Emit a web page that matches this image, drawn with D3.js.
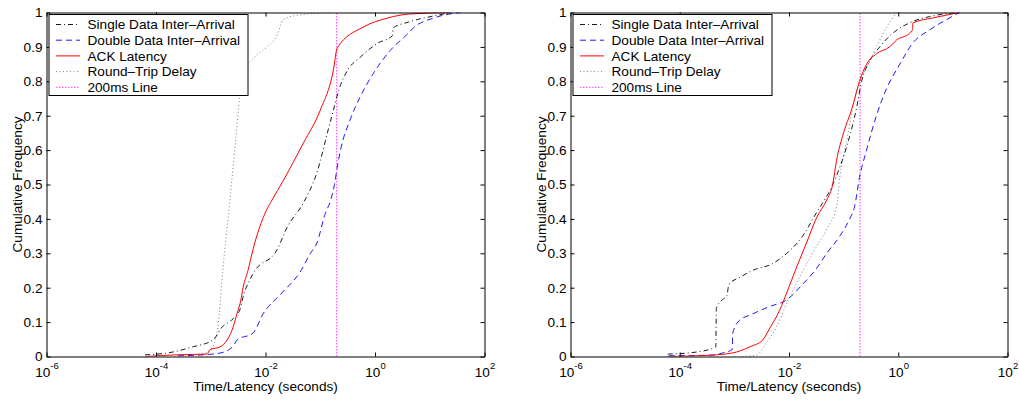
<!DOCTYPE html>
<html>
<head>
<meta charset="utf-8">
<script src="https://cdn.jsdelivr.net/npm/d3@7"></script>
<style>
  body { margin: 0; background: #fff; }
  svg { display: block; font-family: "Liberation Sans", Arial, Helvetica, sans-serif; }
</style>
</head>
<body>
<svg id="canvas" width="1019" height="402"></svg>
<script>
// Declare data (times stored as log10 of seconds)
let seriesNames = ["Single Data Inter\u2013Arrival", "Double Data Inter\u2013Arrival", "ACK Latency", "Round\u2013Trip Delay", "200ms Line"];
let xTicks = [1e-6, 1e-4, 1e-2, 1, 1e2];
let xTickExp = ["-6", "-4", "-2", "0", "2"];
let yTicks = [0, 0.1, 0.2, 0.3, 0.4, 0.5, 0.6, 0.7, 0.8, 0.9, 1];
let yTickLabels = ["0", "0.1", "0.2", "0.3", "0.4", "0.5", "0.6", "0.7", "0.8", "0.9", "1"];
let cutoffSeconds = 0.2;

// left panel
let leftSingleT = [-4.2, -3.8, -3.33, -2.96, -2.79, -2.59, -2.47, -2.41, -2.23, -1.79, -1.6, -1.31, -1.05, -0.87, -0.76, -0.65, -0.51, -0.27, 0.04, 0.32, 0.33, 0.61, 1.07, 1.4];
let leftSingleF = [0.005, 0.01, 0.028, 0.048, 0.086, 0.11, 0.135, 0.173, 0.24, 0.31, 0.377, 0.446, 0.54, 0.65, 0.716, 0.78, 0.83, 0.87, 0.91, 0.933, 0.955, 0.972, 0.99, 1];
let leftDoubleT = [-3.6, -3.14, -2.83, -2.59, -2.52, -2.23, -2.04, -1.7, -1.37, -1.18, -1.06, -0.92, -0.8, -0.74, -0.69, -0.63, -0.45, -0.27, 0.04, 0.28, 0.61, 0.7, 1.07, 1.56];
let leftDoubleF = [0.002, 0.005, 0.01, 0.03, 0.048, 0.068, 0.125, 0.185, 0.245, 0.3, 0.33, 0.41, 0.46, 0.5, 0.55, 0.6, 0.69, 0.755, 0.84, 0.89, 0.94, 0.955, 0.984, 1];
let leftAckT = [-4.2, -3.6, -3.07, -3.01, -2.83, -2.7, -2.59, -2.52, -2.45, -2.41, -2.32, -2.23, -2.12, -1.98, -1.88, -1.68, -1.31, -1, -0.76, -0.69, -0.21, 0.23, 0.65, 1.38];
let leftAckF = [0, 0.005, 0.007, 0.02, 0.028, 0.048, 0.086, 0.125, 0.164, 0.2, 0.25, 0.31, 0.37, 0.426, 0.455, 0.51, 0.62, 0.716, 0.833, 0.897, 0.958, 0.984, 0.996, 1];
let leftRttT = [-3.6, -3.1, -2.96, -2.87, -2.78, -2.65, -2.55, -2.47, -2.37, -2.2, -1.97, -1.79, -1.68, -1.49, -0.8];
let leftRttF = [0, 0.01, 0.03, 0.086, 0.25, 0.455, 0.62, 0.754, 0.833, 0.87, 0.9, 0.934, 0.978, 0.99, 1];

// right panel
let rightSingleT = [-4.22, -3.69, -3.34, -3.33, -3.22, -3.14, -3.1, -2.9, -2.67, -2.3, -2.04, -1.75, -1.49, -1.26, -1.07, -0.89, -0.76, -0.67, -0.52, -0.34, -0.1, 0.21, 0.63, 1.07];
let rightSingleF = [0.007, 0.013, 0.028, 0.14, 0.165, 0.175, 0.21, 0.23, 0.25, 0.27, 0.3, 0.35, 0.42, 0.48, 0.55, 0.64, 0.725, 0.8, 0.86, 0.9, 0.94, 0.97, 0.99, 1];
let rightDoubleT = [-4.2, -3.4, -3.22, -3.04, -3.03, -2.9, -2.72, -2.36, -2.04, -1.75, -1.5, -1.31, -1.07, -0.89, -0.8, -0.71, -0.58, -0.4, -0.21, 0.03, 0.26, 0.58, 0.89, 1.12];
let rightDoubleF = [0.002, 0.004, 0.01, 0.02, 0.068, 0.106, 0.12, 0.145, 0.165, 0.21, 0.255, 0.3, 0.35, 0.4, 0.435, 0.52, 0.6, 0.7, 0.78, 0.85, 0.91, 0.95, 0.98, 1];
let rightAckT = [-4.22, -3.33, -2.96, -2.72, -2.48, -2.36, -2.17, -2.03, -1.86, -1.68, -1.49, -1.31, -1.2, -1.13, -1.02, -0.84, -0.71, -0.58, -0.4, -0.16, -0.03, 0.21, 0.26, 0.27, 0.63, 1.12];
let rightAckF = [0, 0.005, 0.013, 0.028, 0.048, 0.08, 0.135, 0.19, 0.26, 0.33, 0.405, 0.455, 0.5, 0.57, 0.64, 0.725, 0.8, 0.85, 0.88, 0.9, 0.92, 0.94, 0.95, 0.97, 0.984, 1];
let rightRttT = [-2.85, -2.59, -2.41, -2.23, -2.04, -1.81, -1.57, -1.31, -1.13, -1.07, -0.95, -0.84, -0.71, -0.58, -0.4, -0.21, -0.03];
let rightRttF = [0, 0.005, 0.04, 0.086, 0.155, 0.23, 0.3, 0.37, 0.435, 0.52, 0.62, 0.717, 0.795, 0.84, 0.9, 0.958, 1];

// line styles, same order as seriesNames
let styles = [
  { color: "#000000", dash: "5,3,1,3", width: 0.9 },
  { color: "#0000ff", dash: "6,4", width: 0.9 },
  { color: "#ff0000", dash: null, width: 1 },
  { color: "#707070", dash: "1,2.5", width: 0.9 },
  { color: "#ff33ff", dash: "1.5,1.5", width: 1 }
];

let panels = [
  { left: 46.5, right: 484.5, series: [[leftSingleT, leftSingleF], [leftDoubleT, leftDoubleF], [leftAckT, leftAckF], [leftRttT, leftRttF]] },
  { left: 570.5, right: 1007.5, series: [[rightSingleT, rightSingleF], [rightDoubleT, rightDoubleF], [rightAckT, rightAckF], [rightRttT, rightRttF]] }
];

let plotTop = 12.5;
let plotBottom = 356.5;
let fontSize = 13.6;

let canvas = d3.select("#canvas");
canvas.append("rect").attr("width", 1019).attr("height", 402).attr("fill", "#fff");

let applyStyle = (sel, st) => {
  sel.attr("fill", "none")
    .attr("stroke", st.color)
    .attr("stroke-width", st.width)
    .attr("stroke-dasharray", st.dash);
};

let drawPanel = (p, idx) => {
  let xScale = d3.scaleLog().domain([1e-6, 1e2]).range([p.left, p.right]);
  let yScale = d3.scaleLinear().domain([0, 1]).range([plotBottom, plotTop]);
  let g = canvas.append("g");

  let clipId = "clip" + idx;
  g.append("clipPath").attr("id", clipId)
    .append("rect")
    .attr("x", p.left).attr("y", plotTop)
    .attr("width", p.right - p.left).attr("height", plotBottom - plotTop);

  let plot = g.append("g").attr("clip-path", `url(#${clipId})`);

  let line = d3.line()
    .x((d) => xScale(Math.pow(10, d[0])))
    .y((d) => yScale(d[1]))
    .curve(d3.curveMonotoneX);

  // 200ms line
  plot.append("path")
    .attr("d", d3.line()([[xScale(cutoffSeconds), yScale(0)], [xScale(cutoffSeconds), yScale(1)]]))
    .call(applyStyle, styles[4]);

  // draw RTT first, then the others on top
  [3, 1, 0, 2].forEach((s) => {
    let ts = p.series[s][0];
    let fs = p.series[s][1];
    let pts = ts.map((t, i) => [t, fs[i]]);
    plot.append("path").attr("d", line(pts)).call(applyStyle, styles[s]);
  });

  // axes
  let xAxis = g.append("g")
    .attr("transform", `translate(0,${plotBottom})`)
    .call(d3.axisBottom(xScale).tickValues(xTicks).tickSize(-4).tickSizeOuter(0).tickPadding(11));
  xAxis.selectAll(".tick text").each(function (d, i) {
    let t = d3.select(this);
    t.text("10");
    t.append("tspan").attr("dy", -8).attr("class", "sup").text(xTickExp[i]);
  });

  g.append("g")
    .attr("transform", `translate(0,${plotTop})`)
    .call(d3.axisTop(xScale).tickValues(xTicks).tickSize(-4).tickSizeOuter(0).tickFormat(""));

  g.append("g")
    .attr("transform", `translate(${p.left},0)`)
    .call(d3.axisLeft(yScale).tickValues(yTicks).tickSize(-4).tickSizeOuter(0).tickPadding(4)
      .tickFormat((d, i) => yTickLabels[i]));

  g.append("g")
    .attr("transform", `translate(${p.right},0)`)
    .call(d3.axisRight(yScale).tickValues(yTicks).tickSize(-4).tickSizeOuter(0).tickFormat(""));

  g.selectAll(".domain").attr("stroke", "#000").attr("stroke-width", 1);
  g.selectAll(".tick line").attr("stroke", "#000").attr("stroke-width", 1);
  g.selectAll(".tick text").attr("fill", "#000").attr("font-size", fontSize)
    .attr("font-family", "Liberation Sans, Arial, sans-serif");
  xAxis.selectAll(".sup").attr("font-size", 9.5);

  // axis titles
  g.append("text")
    .attr("x", (p.left + p.right) / 2)
    .attr("y", 391)
    .attr("text-anchor", "middle")
    .attr("font-size", fontSize)
    .text("Time/Latency (seconds)");

  g.append("text")
    .attr("transform", `translate(${p.left - 25},${(plotTop + plotBottom) / 2}) rotate(-90)`)
    .attr("text-anchor", "middle")
    .attr("font-size", fontSize)
    .text("Cumulative Frequency");

  // legend
  let lx = p.left + 2.5;
  let ly = 14.5;
  let legend = g.append("g");
  legend.append("rect")
    .attr("x", lx).attr("y", ly)
    .attr("width", 199).attr("height", 81)
    .attr("fill", "#fff").attr("stroke", "#000").attr("stroke-width", 1);
  seriesNames.forEach((name, i) => {
    let yy = 24.5 + i * 15.7;
    legend.append("line")
      .attr("x1", lx + 7).attr("x2", lx + 31)
      .attr("y1", yy).attr("y2", yy)
      .call(applyStyle, styles[i]);
    legend.append("text")
      .attr("x", lx + 38.5).attr("y", yy)
      .attr("dy", "0.35em")
      .attr("font-size", fontSize)
      .text(name);
  });
};

panels.forEach(drawPanel);
</script>
</body>
</html>
